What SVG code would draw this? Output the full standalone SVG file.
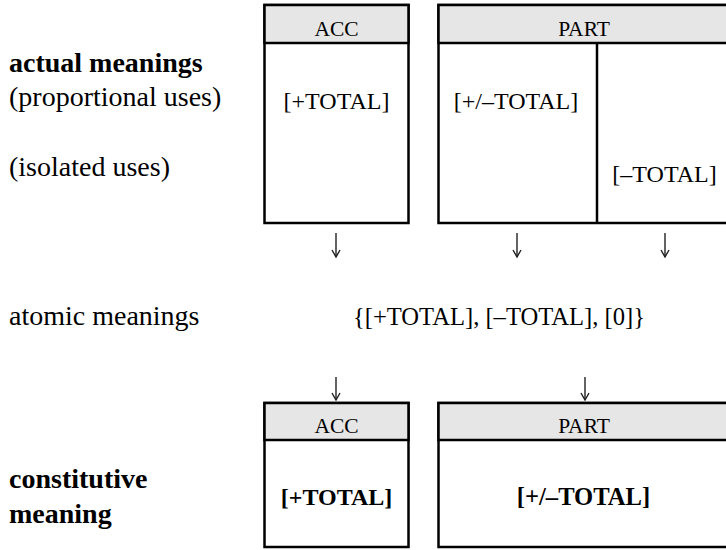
<svg xmlns="http://www.w3.org/2000/svg" width="726" height="550" viewBox="0 0 726 550">
  <style>
    text { font-family: "Liberation Serif", "Times New Roman", serif; fill: #000; }
    .lbl { font-size: 28px; }
    .b { font-weight: bold; }
    .hd { font-size: 21.5px; text-anchor: middle; }
    .val { font-size: 24px; text-anchor: middle; }
    .box { fill: #fff; stroke: #000; stroke-width: 2.5; }
    .head { fill: #e6e6e6; stroke: #000; stroke-width: 2.5; }
    .div { stroke: #000; stroke-width: 2.5; fill: none; }
    .arr { stroke: #222; stroke-width: 1.4; fill: none; marker-end: url(#tip); }
  </style>
  <defs>
    <!-- open chevron head, drawn along +x so orient="auto" turns it with the line -->
    <marker id="tip" viewBox="0 0 10 10" refX="9" refY="5" markerWidth="10" markerHeight="10" markerUnits="userSpaceOnUse" orient="auto">
      <path d="M2,1 L9,5 L2,9" fill="none" stroke="#222" stroke-width="1.4"/>
    </marker>
  </defs>

  <!-- row labels -->
  <g id="labels">
    <text class="lbl b" x="9" y="72">actual meanings</text>
    <text class="lbl" x="9" y="106">(proportional uses)</text>
    <text class="lbl" x="9" y="176">(isolated uses)</text>
    <text class="lbl" x="9" y="325">atomic meanings</text>
    <text class="lbl b" x="9" y="488">constitutive</text>
    <text class="lbl b" x="9" y="523">meaning</text>
  </g>

  <!-- actual meanings: ACC -->
  <g id="acc-actual">
    <rect class="box" x="264.5" y="5" width="144" height="218"/>
    <rect class="head" x="264.5" y="5" width="144" height="38"/>
    <text class="hd" x="336.5" y="36">ACC</text>
    <text class="val" x="336.5" y="109">[+TOTAL]</text>
  </g>

  <!-- actual meanings: PART -->
  <g id="part-actual">
    <rect class="box" x="438.5" y="5" width="290" height="218"/>
    <rect class="head" x="438.5" y="5" width="290" height="38"/>
    <line class="div" x1="597" y1="43" x2="597" y2="223"/>
    <text class="hd" x="584" y="36">PART</text>
    <text class="val" x="516" y="109">[+/–TOTAL]</text>
    <text class="val" x="664.5" y="182">[–TOTAL]</text>
  </g>

  <!-- atomic meanings set -->
  <g id="atomic">
    <text class="val" x="499" y="325" style="font-size:24.6px">{[+TOTAL], [–TOTAL], [0]}</text>
  </g>

  <!-- constitutive meaning: ACC -->
  <g id="acc-constitutive">
    <rect class="box" x="264.5" y="403" width="144" height="144"/>
    <rect class="head" x="264.5" y="403" width="144" height="37"/>
    <text class="hd" x="336.5" y="433">ACC</text>
    <text class="val b" x="336.5" y="505">[+TOTAL]</text>
  </g>

  <!-- constitutive meaning: PART -->
  <g id="part-constitutive">
    <rect class="box" x="438.5" y="403" width="290" height="144"/>
    <rect class="head" x="438.5" y="403" width="290" height="37"/>
    <text class="hd" x="584" y="433">PART</text>
    <text class="val b" x="583.5" y="505" style="font-size:24.6px">[+/–TOTAL]</text>
  </g>

  <!-- connectors -->
  <g id="connectors">
    <line class="arr" x1="336" y1="233" x2="336" y2="257"/>
    <line class="arr" x1="517" y1="233" x2="517" y2="257"/>
    <line class="arr" x1="665" y1="233" x2="665" y2="257"/>
    <line class="arr" x1="336" y1="377" x2="336" y2="400"/>
    <line class="arr" x1="585" y1="377" x2="585" y2="400"/>
  </g>
</svg>
